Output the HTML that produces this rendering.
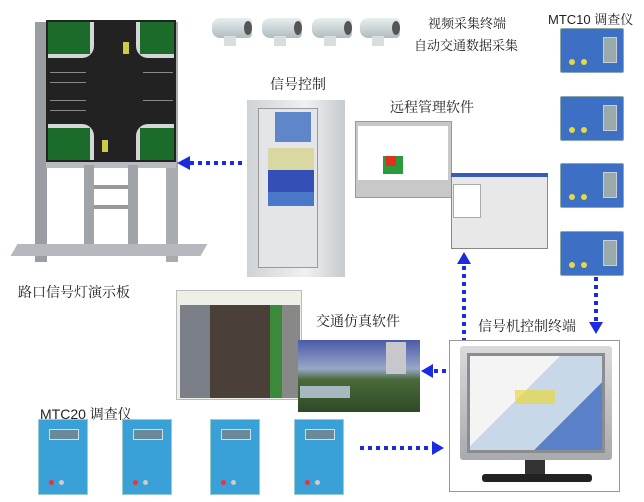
<!DOCTYPE html>
<html><head><meta charset="utf-8"><style>
*{margin:0;padding:0;box-sizing:border-box}
body{width:644px;height:502px;background:#fff;position:relative;overflow:hidden;font-family:"Liberation Sans","Noto Sans CJK SC",sans-serif;color:#222}
.a{position:absolute}
.t{position:absolute;font-size:14px;white-space:nowrap;font-family:"Liberation Sans","Noto Serif CJK SC","Noto Sans CJK SC",sans-serif}
.m10{position:absolute;width:64px;height:45px;background:#3d6fc4;border:1px solid #8aa;border-radius:2px}
.m10 .s{position:absolute;left:42px;top:8px;width:14px;height:26px;background:#9aa;border:1px solid #ccd}
.m10 i{position:absolute;width:6px;height:6px;border-radius:50%;background:#e6d840}
.m20{position:absolute;width:50px;height:76px;background:#3aa0d8;border:1px solid #9cc}
.m20 .s{position:absolute;left:10px;top:9px;width:30px;height:11px;background:#6a8a9a;border:1px solid #cde}
.m20 i{position:absolute;width:5px;height:5px;border-radius:50%;background:#ccc}
.dh{position:absolute;height:4px;background:repeating-linear-gradient(90deg,#1a2be0 0 4px,transparent 4px 8px)}
.dv{position:absolute;width:4px;background:repeating-linear-gradient(180deg,#1a2be0 0 4px,transparent 4px 8px)}
.cam{position:absolute;width:40px;height:20px;background:linear-gradient(#e8eef0,#b0bcc0);border-radius:8px 4px 4px 8px}
.cam:after{content:"";position:absolute;right:0;top:3px;width:8px;height:14px;border-radius:50%;background:#555}
.cam:before{content:"";position:absolute;left:12px;top:18px;width:12px;height:10px;background:#d8dde0}
.rd{position:absolute;background:#d4d6d8}
</style></head><body>

<!-- signal board -->
<div class="a" style="left:35px;top:22px;width:12px;height:240px;background:#9a9da2"></div>
<div class="a" style="left:166px;top:22px;width:12px;height:240px;background:#a8abb0"></div>
<div class="a" style="left:46px;top:20px;width:130px;height:142px;background:#222"></div>
<div class="rd" style="left:48px;top:22px;width:46px;height:36px;border-radius:0 0 12px 0"></div>
<div class="rd" style="left:136px;top:22px;width:38px;height:36px;border-radius:0 0 0 12px"></div>
<div class="rd" style="left:48px;top:124px;width:46px;height:36px;border-radius:0 12px 0 0"></div>
<div class="rd" style="left:136px;top:124px;width:38px;height:36px;border-radius:12px 0 0 0"></div>
<div class="a" style="left:48px;top:22px;width:42px;height:32px;background:#1b6b2a"></div>
<div class="a" style="left:140px;top:22px;width:34px;height:32px;background:#1b6b2a"></div>
<div class="a" style="left:48px;top:128px;width:42px;height:32px;background:#1b6b2a"></div>
<div class="a" style="left:140px;top:128px;width:34px;height:32px;background:#1b6b2a"></div>
<div class="a" style="left:50px;top:72px;width:36px;height:1px;background:#888"></div>
<div class="a" style="left:50px;top:82px;width:36px;height:1px;background:#888"></div>
<div class="a" style="left:50px;top:100px;width:36px;height:1px;background:#888"></div>
<div class="a" style="left:50px;top:110px;width:36px;height:1px;background:#888"></div>
<div class="a" style="left:143px;top:72px;width:30px;height:1px;background:#888"></div>
<div class="a" style="left:143px;top:100px;width:30px;height:1px;background:#888"></div>
<div class="a" style="left:123px;top:42px;width:6px;height:12px;background:#cc4"></div>
<div class="a" style="left:102px;top:140px;width:6px;height:12px;background:#cc4"></div>
<div class="a" style="left:46px;top:162px;width:130px;height:6px;background:#b8bbbf"></div>
<div class="a" style="left:84px;top:165px;width:10px;height:85px;background:#a0a3a8"></div>
<div class="a" style="left:128px;top:165px;width:10px;height:85px;background:#a0a3a8"></div>
<div class="a" style="left:94px;top:185px;width:34px;height:4px;background:#999"></div>
<div class="a" style="left:94px;top:205px;width:34px;height:4px;background:#999"></div>
<div class="a" style="left:14px;top:244px;width:190px;height:12px;background:#b5b8bc;transform:skewX(-30deg)"></div>

<div class="t" style="left:18px;top:282px">路口信号灯演示板</div>

<!-- cameras -->
<div class="cam" style="left:212px;top:18px"></div>
<div class="cam" style="left:262px;top:18px"></div>
<div class="cam" style="left:312px;top:18px"></div>
<div class="cam" style="left:360px;top:18px"></div>
<div class="t" style="left:428px;top:13px;font-size:13px">视频采集终端</div>
<div class="t" style="left:414px;top:35px;font-size:13px">自动交通数据采集</div>
<div class="t" style="left:548px;top:9px;font-size:13px">MTC10 调查仪</div>

<!-- MTC10 -->
<div class="m10" style="left:560px;top:28px"><div class="s"></div><i style="left:8px;top:30px"></i><i style="left:20px;top:30px"></i></div>
<div class="m10" style="left:560px;top:96px"><div class="s"></div><i style="left:8px;top:30px"></i><i style="left:20px;top:30px"></i></div>
<div class="m10" style="left:560px;top:163px"><div class="s"></div><i style="left:8px;top:30px"></i><i style="left:20px;top:30px"></i></div>
<div class="m10" style="left:560px;top:231px"><div class="s"></div><i style="left:8px;top:30px"></i><i style="left:20px;top:30px"></i></div>

<!-- cabinet -->
<div class="t" style="left:270px;top:74px">信号控制</div>
<div class="a" style="left:247px;top:100px;width:98px;height:177px;background:linear-gradient(90deg,#d0d3d6,#eef0f2 60%,#c8cbce)"></div>
<div class="a" style="left:258px;top:108px;width:60px;height:160px;background:#e3e5e8;border:1px solid #999"></div>
<div class="a" style="left:275px;top:112px;width:36px;height:30px;background:#5e86c8"></div>
<div class="a" style="left:268px;top:148px;width:46px;height:22px;background:#d8d8a0"></div>
<div class="a" style="left:268px;top:170px;width:46px;height:22px;background:#3450b8"></div>
<div class="a" style="left:268px;top:192px;width:46px;height:14px;background:#4a78c8"></div>

<!-- arrow left to board -->
<div class="dh" style="left:190px;top:161px;width:56px"></div>
<div class="a" style="left:177px;top:156px;width:0;height:0;border-top:7px solid transparent;border-bottom:7px solid transparent;border-right:13px solid #1a2be0"></div>

<!-- software -->
<div class="t" style="left:390px;top:97px">远程管理软件</div>
<div class="a" style="left:355px;top:121px;width:97px;height:77px;background:#c8c8c8;border:1px solid #999"></div>
<div class="a" style="left:358px;top:126px;width:90px;height:54px;background:#fff"></div>
<div class="a" style="left:383px;top:156px;width:20px;height:18px;background:#2a9a3a"></div>
<div class="a" style="left:386px;top:156px;width:10px;height:10px;background:#e03020"></div>
<div class="a" style="left:451px;top:173px;width:97px;height:76px;background:#e8e8e8;border:1px solid #888"></div>
<div class="a" style="left:451px;top:173px;width:97px;height:4px;background:#3a5ab8"></div>
<div class="a" style="left:453px;top:184px;width:28px;height:34px;background:#fff;border:1px solid #aaa"></div>

<!-- vertical arrows -->
<div class="a" style="left:457px;top:252px;width:0;height:0;border-left:7px solid transparent;border-right:7px solid transparent;border-bottom:12px solid #1a2be0"></div>
<div class="dv" style="left:462px;top:266px;height:74px"></div>
<div class="dv" style="left:594px;top:277px;height:46px"></div>
<div class="a" style="left:589px;top:322px;width:0;height:0;border-left:7px solid transparent;border-right:7px solid transparent;border-top:12px solid #1a2be0"></div>

<!-- simulation -->
<div class="a" style="left:176px;top:290px;width:126px;height:110px;background:#eef0e8;border:1px solid #bbb"></div>
<div class="a" style="left:180px;top:305px;width:120px;height:93px;background:linear-gradient(90deg,#7a7f88 0 25%,#4a4038 25% 75%,#3a8a3a 75% 85%,#888 85%)"></div>
<div class="t" style="left:316px;top:311px">交通仿真软件</div>
<div class="a" style="left:298px;top:340px;width:122px;height:72px;background:linear-gradient(#4a5aa8,#98a8c8 40%,#4a6a3a 55%,#2e4a28)"></div>
<div class="a" style="left:386px;top:342px;width:20px;height:32px;background:#c8c8cc"></div>
<div class="a" style="left:300px;top:386px;width:50px;height:12px;background:#a8b8c0"></div>

<!-- arrow to sim -->
<div class="a" style="left:421px;top:364px;width:0;height:0;border-top:7px solid transparent;border-bottom:7px solid transparent;border-right:12px solid #1a2be0"></div>
<div class="dh" style="left:434px;top:369px;width:22px"></div>

<!-- monitor -->
<div class="t" style="left:478px;top:316px">信号机控制终端</div>
<div class="a" style="left:449px;top:340px;width:171px;height:152px;border:1px solid #999;background:#fff"></div>
<div class="a" style="left:460px;top:346px;width:152px;height:114px;background:linear-gradient(#d8dadc,#a8aaae);border-radius:3px"></div>
<div class="a" style="left:467px;top:353px;width:138px;height:100px;background:#8a8c90"></div>
<div class="a" style="left:470px;top:356px;width:132px;height:94px;background:linear-gradient(135deg,#f4f4f4 0 40%,#c8d8e8 40% 70%,#5a80c8 70%)"></div>
<div class="a" style="left:515px;top:390px;width:40px;height:14px;background:#e8d840;opacity:.7"></div>
<div class="a" style="left:525px;top:460px;width:20px;height:16px;background:#333"></div>
<div class="a" style="left:482px;top:474px;width:110px;height:8px;background:#222;border-radius:3px"></div>

<!-- MTC20 -->
<div class="t" style="left:40px;top:404px">MTC20 调查仪</div>
<div class="m20" style="left:38px;top:419px"><div class="s"></div><i style="left:10px;top:60px;background:#e33"></i><i style="left:20px;top:60px"></i></div>
<div class="m20" style="left:122px;top:419px"><div class="s"></div><i style="left:10px;top:60px;background:#e33"></i><i style="left:20px;top:60px"></i></div>
<div class="m20" style="left:210px;top:419px"><div class="s"></div><i style="left:10px;top:60px;background:#e33"></i><i style="left:20px;top:60px"></i></div>
<div class="m20" style="left:294px;top:419px"><div class="s"></div><i style="left:10px;top:60px;background:#e33"></i><i style="left:20px;top:60px"></i></div>

<div class="dh" style="left:360px;top:446px;width:74px"></div>
<div class="a" style="left:432px;top:441px;width:0;height:0;border-top:7px solid transparent;border-bottom:7px solid transparent;border-left:12px solid #1a2be0"></div>
</body></html>
